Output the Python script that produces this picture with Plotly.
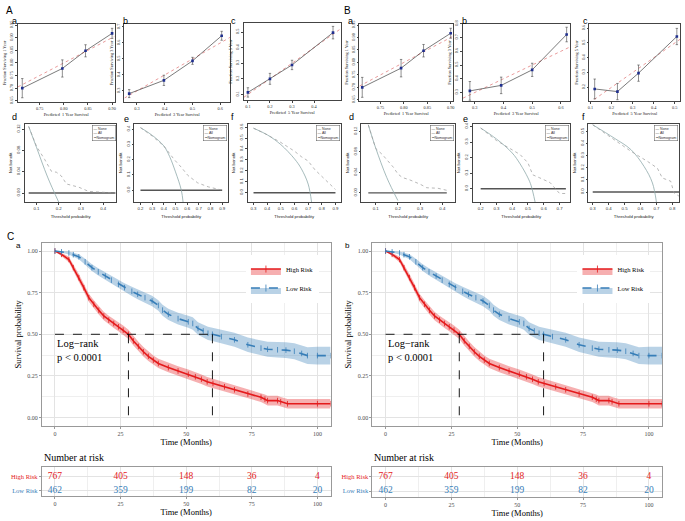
import plotly.graph_objects as go

# ---------------- DATA ----------------
# Calibration (predicted vs observed survival)
calA1_pred = [0.714, 0.797, 0.845, 0.900]
calA1_obs = [0.700, 0.778, 0.848, 0.917]
calA1_err = [0.038, 0.034, 0.024, 0.020]
calA3_pred = [0.272, 0.397, 0.500, 0.605]
calA3_obs = [0.283, 0.366, 0.488, 0.645]
calA3_err = [0.025, 0.032, 0.022, 0.028]
calA5_pred = [0.100, 0.200, 0.300, 0.486]
calA5_obs = [0.113, 0.200, 0.289, 0.496]
calA5_err = [0.030, 0.035, 0.030, 0.040]
calB1_pred = [0.711, 0.794, 0.842, 0.900]
calB1_obs = [0.700, 0.777, 0.847, 0.917]
calB1_err = [0.040, 0.035, 0.025, 0.020]
calB3_pred = [0.283, 0.392, 0.500, 0.620]
calB3_obs = [0.312, 0.352, 0.465, 0.722]
calB3_err = [0.068, 0.060, 0.048, 0.053]
calB5_pred = [0.120, 0.228, 0.328, 0.510]
calB5_obs = [0.189, 0.171, 0.296, 0.544]
calB5_err = [0.067, 0.055, 0.055, 0.055]

# Decision curves
dcaAd_all_x = [0.065, 0.10, 0.15, 0.20]
dcaAd_all_y = [0.125, 0.086, 0.030, -0.017]
dcaAd_nom_x = [0.065, 0.10, 0.137, 0.167, 0.19, 0.212, 0.235, 0.29, 0.335, 0.40, 0.455]
dcaAd_nom_y = [0.125, 0.088, 0.063, 0.041, 0.039, 0.032, 0.017, 0.011, 0.003, 0.001, 0.0]
dcaAe_all_x = [0.2, 0.3, 0.4, 0.45, 0.5, 0.55, 0.565]
dcaAe_all_y = [0.41, 0.36, 0.29, 0.22, 0.12, 0.0, -0.078]
dcaAe_nom_x = [0.2, 0.3, 0.4, 0.49, 0.55, 0.607, 0.69, 0.78, 0.9]
dcaAe_nom_y = [0.41, 0.355, 0.29, 0.20, 0.15, 0.096, 0.048, 0.022, 0.0]
dcaAf_all_x = [0.3, 0.4, 0.5, 0.6, 0.65, 0.7, 0.725]
dcaAf_all_y = [0.59, 0.53, 0.44, 0.31, 0.22, 0.08, -0.085]
dcaAf_nom_x = [0.3, 0.4, 0.5, 0.6, 0.65, 0.7, 0.75, 0.8, 0.85, 0.9]
dcaAf_nom_y = [0.59, 0.53, 0.46, 0.38, 0.33, 0.29, 0.21, 0.15, 0.09, 0.03]
dcaBd_all_x = [0.067, 0.10, 0.15, 0.20]
dcaBd_all_y = [0.133, 0.088, 0.030, -0.015]
dcaBd_nom_x = [0.067, 0.10, 0.13, 0.15, 0.18, 0.20, 0.22, 0.25, 0.30, 0.33, 0.38, 0.42]
dcaBd_nom_y = [0.133, 0.087, 0.075, 0.065, 0.050, 0.037, 0.030, 0.026, 0.017, 0.010, 0.009, 0.005]
dcaBe_all_x = [0.2, 0.3, 0.4, 0.45, 0.5, 0.52, 0.545]
dcaBe_all_y = [0.39, 0.32, 0.23, 0.16, 0.07, 0.02, -0.085]
dcaBe_nom_x = [0.2, 0.3, 0.4, 0.45, 0.5, 0.53, 0.575, 0.64, 0.70, 0.74]
dcaBe_nom_y = [0.39, 0.31, 0.25, 0.22, 0.166, 0.09, 0.07, 0.04, -0.03, -0.03]
dcaBf_all_x = [0.3, 0.435, 0.54, 0.623, 0.675, 0.70]
dcaBf_all_y = [0.555, 0.445, 0.35, 0.21, 0.075, -0.083]
dcaBf_nom_x = [0.3, 0.435, 0.54, 0.644, 0.706, 0.737, 0.758, 0.79, 0.81, 0.842]
dcaBf_nom_y = [0.555, 0.43, 0.336, 0.253, 0.197, 0.116, 0.103, 0.089, -0.007, -0.034]

# Kaplan-Meier curves
km_high_t = [0, 2.5, 5.3, 7, 9.1, 11, 12.9, 14.8, 16.7, 18.6, 20.5, 22.4, 24.2, 26, 28, 29.9, 31.8, 33.7,
             35.6, 37.5, 39.4, 43.2, 46.9, 50.8, 53.5, 55.8, 58, 60.2, 64.6, 68.4, 73.5, 78.5, 80, 81,
             84.8, 86, 88.6, 100, 105]
km_high_s = [1.0, 0.98, 0.949, 0.9, 0.84, 0.78, 0.72, 0.68, 0.644, 0.61, 0.585, 0.565, 0.545, 0.525, 0.50,
             0.46, 0.427, 0.395, 0.368, 0.345, 0.325, 0.30, 0.28, 0.26, 0.245, 0.23, 0.215, 0.205, 0.185,
             0.167, 0.142, 0.122, 0.11, 0.102, 0.102, 0.095, 0.083, 0.083, 0.083]
km_high_up = [1.0, 0.99, 0.965, 0.92, 0.862, 0.803, 0.744, 0.705, 0.669, 0.636, 0.611, 0.592, 0.572, 0.553,
              0.528, 0.488, 0.455, 0.423, 0.396, 0.373, 0.353, 0.328, 0.308, 0.288, 0.273, 0.258, 0.243,
              0.233, 0.213, 0.195, 0.17, 0.15, 0.139, 0.131, 0.131, 0.124, 0.112, 0.112, 0.112]
km_high_lo = [1.0, 0.97, 0.933, 0.88, 0.818, 0.757, 0.696, 0.655, 0.619, 0.584, 0.559, 0.538, 0.518, 0.497,
              0.472, 0.432, 0.399, 0.367, 0.34, 0.317, 0.297, 0.272, 0.252, 0.232, 0.217, 0.202, 0.187,
              0.177, 0.157, 0.139, 0.114, 0.094, 0.081, 0.073, 0.073, 0.066, 0.054, 0.054, 0.054]
km_low_t = [0, 2.5, 5.3, 7, 9.1, 11.5, 14.1, 16.5, 19.2, 21.5, 24.2, 26.5, 29.3, 31.5, 34.3, 37, 39.4, 41,
            43.2, 46.9, 50.8, 52.5, 54.5, 56.5, 58.3, 60, 63.4, 68.4, 73.5, 78.5, 81, 84.8, 88, 91.2, 94,
            96.2, 100, 105]
km_low_s = [1.0, 0.995, 0.988, 0.978, 0.965, 0.935, 0.90, 0.875, 0.85, 0.825, 0.80, 0.78, 0.758, 0.74,
            0.72, 0.70, 0.673, 0.645, 0.62, 0.594, 0.575, 0.565, 0.535, 0.52, 0.506, 0.50, 0.486, 0.467,
            0.437, 0.417, 0.41, 0.407, 0.405, 0.398, 0.385, 0.372, 0.372, 0.372]
km_low_up = [1.0, 1.0, 0.997, 0.99, 0.98, 0.953, 0.92, 0.897, 0.873, 0.85, 0.826, 0.807, 0.786, 0.769,
             0.75, 0.731, 0.705, 0.678, 0.654, 0.629, 0.611, 0.602, 0.573, 0.559, 0.546, 0.54, 0.527,
             0.509, 0.48, 0.461, 0.455, 0.453, 0.452, 0.446, 0.434, 0.422, 0.425, 0.425]
km_low_lo = [1.0, 0.99, 0.979, 0.966, 0.95, 0.917, 0.88, 0.853, 0.827, 0.8, 0.774, 0.753, 0.73, 0.711,
             0.69, 0.669, 0.641, 0.612, 0.586, 0.559, 0.539, 0.528, 0.497, 0.481, 0.466, 0.46, 0.445,
             0.425, 0.394, 0.373, 0.365, 0.361, 0.358, 0.35, 0.336, 0.322, 0.319, 0.319]
median_high = 28
median_low = 60

risk_times = [0, 25, 50, 75, 100]
risk_high = [767, 405, 148, 36, 4]
risk_low = [462, 359, 199, 82, 20]
groups = ["High Risk", "Low Risk"]

# ---------------- LAYOUT HELPERS ----------------
W, H = 685, 521
RED = "#E41A1C"
BLUE = "#377EB8"
SERIF = "Liberation Serif"
SANS = "Liberation Sans"


def dx(l, r):
    return [l / W, r / W]


def dy(t, b):
    return [1 - b / H, 1 - t / H]


def ids(i):
    s = "" if i == 1 else str(i)
    return "x" + s, "y" + s, "xaxis" + s, "yaxis" + s


fig = go.Figure()
lay = {}
annots = []


def base_axis(domain, rng, anchor, tickvals, fmt, title, font, angle=0, standoff=2):
    return dict(domain=domain, range=rng, anchor=anchor, showline=True, mirror=True,
                linecolor="#444", linewidth=0.7, ticks="outside", ticklen=2, tickwidth=0.5,
                tickcolor="#444", tickvals=tickvals, tickformat=fmt, tickangle=angle,
                tickfont=dict(size=4.3, family=font, color="#333"),
                title=dict(text=title, font=dict(size=4.3, family=font, color="#222"), standoff=standoff),
                showgrid=False, zeroline=False)


def cal_panel(i, box, pred, obs, err, xr, yr, xt, yt, fmt, yr_label):
    xa, ya, xk, yk = ids(i)
    fig.add_trace(go.Scatter(x=xr, y=xr, mode="lines", xaxis=xa, yaxis=ya, showlegend=False,
                             line=dict(color="#e07070", width=0.7, dash="dot")))
    fig.add_trace(go.Scatter(x=pred, y=obs, mode="lines+markers", xaxis=xa, yaxis=ya, showlegend=False,
                             line=dict(color="#222", width=0.6),
                             marker=dict(symbol="square", size=2.6, color="#1f2f8f"),
                             error_y=dict(type="data", array=err, color="#444", thickness=0.6, width=1.2)))
    lay[xk] = base_axis(dx(box[0], box[1]), xr, ya, xt, fmt, f"Predicted  {yr_label} Year Survival", SERIF)
    lay[yk] = base_axis(dy(box[2], box[3]), yr, xa, yt, fmt, f"Fraction Surviving {yr_label} Year", SERIF,
                        angle=-90)


def dca_panel(i, box, ax_, ay_, nx_, ny_, xr, yr, xt, yt, yfmt):
    xa, ya, xk, yk = ids(i)
    fig.add_trace(go.Scatter(x=[ax_[0], nx_[-1]], y=[0, 0], mode="lines", xaxis=xa, yaxis=ya,
                             showlegend=False, line=dict(color="#555", width=1.4)))
    fig.add_trace(go.Scatter(x=ax_, y=ay_, mode="lines", xaxis=xa, yaxis=ya, showlegend=False,
                             line=dict(color="#8fa9ab", width=0.8, shape="spline")))
    fig.add_trace(go.Scatter(x=nx_, y=ny_, mode="lines", xaxis=xa, yaxis=ya, showlegend=False,
                             line=dict(color="#999", width=0.7, dash="dot")))
    lay[xk] = base_axis(dx(box[0], box[1]), xr, ya, xt, ".1f", "Threshold probability", SANS, standoff=4)
    lay[yk] = base_axis(dy(box[2], box[3]), yr, xa, yt, yfmt, "Net benefit", SANS, angle=-90, standoff=3)
    annots.append(dict(xref=f"{xa} domain", yref=f"{ya} domain", x=0.99, y=0.98, xanchor="right",
                       yanchor="top", showarrow=False, align="left",
                       text="— None<br>— All<br>┅ Nomogram", bgcolor="white", bordercolor="#555",
                       borderwidth=0.5, borderpad=1, font=dict(size=3.6, family=SANS, color="#333")))


cal_panel(1, (16, 113, 21, 100), calA1_pred, calA1_obs, calA1_err, [0.705, 0.905], [0.645, 0.955],
          [0.75, 0.80, 0.85, 0.90], [0.65, 0.70, 0.75, 0.80, 0.85, 0.90, 0.95], ".2f", "1")
cal_panel(2, (123, 229, 21, 100), calA3_pred, calA3_obs, calA3_err, [0.255, 0.635], [0.23, 0.72],
          [0.3, 0.4, 0.5, 0.6], [0.3, 0.4, 0.5, 0.6, 0.7], ".1f", "3")
cal_panel(3, (243, 340, 20, 98), calA5_pred, calA5_obs, calA5_err, [0.082, 0.52], [0.064, 0.559],
          [0.1, 0.2, 0.3, 0.4], [0.1, 0.2, 0.3, 0.4, 0.5], ".1f", "5")
cal_panel(4, (359, 453, 21, 99), calB1_pred, calB1_obs, calB1_err, [0.705, 0.905], [0.645, 0.955],
          [0.75, 0.80, 0.85, 0.90], [0.65, 0.70, 0.75, 0.80, 0.85, 0.90, 0.95], ".2f", "1")
cal_panel(5, (463, 570, 21, 99), calB3_pred, calB3_obs, calB3_err, [0.259, 0.63], [0.238, 0.80],
          [0.3, 0.4, 0.5, 0.6], [0.3, 0.4, 0.5, 0.6, 0.7, 0.8], ".1f", "3")
cal_panel(6, (590, 681, 21, 99), calB5_pred, calB5_obs, calB5_err, [0.095, 0.525], [0.107, 0.63],
          [0.1, 0.2, 0.3, 0.4, 0.5], [0.2, 0.3, 0.4, 0.5, 0.6], ".1f", "5")

dca_panel(7, (23, 115, 122, 201), dcaAd_all_x, dcaAd_all_y, dcaAd_nom_x, dcaAd_nom_y,
          [0.048, 0.46], [-0.017, 0.13], [0.1, 0.2, 0.3, 0.4], [0, 0.04, 0.08, 0.12], ".2f")
dca_panel(8, (133, 227, 122, 201), dcaAe_all_x, dcaAe_all_y, dcaAe_nom_x, dcaAe_nom_y,
          [0.148, 0.95], [-0.078, 0.435], [0.2, 0.3, 0.4, 0.5, 0.6, 0.7, 0.8, 0.9],
          [0, 0.1, 0.2, 0.3, 0.4], ".1f")
dca_panel(9, (247, 340, 122, 201), dcaAf_all_x, dcaAf_all_y, dcaAf_nom_x, dcaAf_nom_y,
          [0.259, 0.937], [-0.085, 0.63], [0.3, 0.4, 0.5, 0.6, 0.7, 0.8, 0.9],
          [0, 0.1, 0.2, 0.3, 0.4, 0.5, 0.6], ".1f")
dca_panel(10, (361, 455, 122, 201), dcaBd_all_x, dcaBd_all_y, dcaBd_nom_x, dcaBd_nom_y,
          [0.036, 0.457], [-0.018, 0.135], [0.1, 0.2, 0.3, 0.4], [0, 0.04, 0.08, 0.12], ".2f")
dca_panel(11, (473, 570, 122, 201), dcaBe_all_x, dcaBe_all_y, dcaBe_nom_x, dcaBe_nom_y,
          [0.151, 0.763], [-0.085, 0.417], [0.2, 0.3, 0.4, 0.5, 0.6, 0.7],
          [0, 0.1, 0.2, 0.3, 0.4], ".1f")
dca_panel(12, (589, 680, 122, 201), dcaBf_all_x, dcaBf_all_y, dcaBf_nom_x, dcaBf_nom_y,
          [0.273, 0.842], [-0.083, 0.563], [0.3, 0.4, 0.5, 0.6, 0.7, 0.8],
          [0, 0.1, 0.2, 0.3, 0.4, 0.5], ".1f")

# ---------------- KM panels ----------------
tickfont_km = dict(size=6, family=SERIF, color="#4d4d4d")
titlefont_km = dict(size=8.5, family=SERIF, color="black")


def km_panel(i, j, box, rbox, legend_name, legx):
    xa, ya, xk, yk = ids(i)
    rxa, rya, rxk, ryk = ids(j)
    for t, s, up, lo, col, fill, dash, name in [
        (km_high_t, km_high_s, km_high_up, km_high_lo, RED, "rgba(228,26,28,0.35)", "solid", groups[0]),
        (km_low_t, km_low_s, km_low_up, km_low_lo, BLUE, "rgba(55,126,184,0.35)", "dash", groups[1]),
    ]:
        fig.add_trace(go.Scatter(x=t, y=lo, mode="lines", xaxis=xa, yaxis=ya, showlegend=False,
                                 line=dict(width=0, color=col), hoverinfo="skip"))
        fig.add_trace(go.Scatter(x=t, y=up, mode="lines", xaxis=xa, yaxis=ya, showlegend=False,
                                 fill="tonexty", fillcolor=fill, line=dict(width=0, color=col),
                                 hoverinfo="skip"))
        fig.add_trace(go.Scatter(x=t, y=s, mode="lines+markers", xaxis=xa, yaxis=ya, showlegend=False,
                                 line=dict(color=col, width=1.6, dash=dash),
                                 marker=dict(symbol="line-ns", size=4, color=col,
                                             line=dict(color=col, width=0.8))))
        # legend-only entry (fill box + line + censor mark)
        fig.add_trace(go.Scatter(x=[None], y=[None], mode="lines+markers", xaxis=xa, yaxis=ya, name=name,
                                 legend=legend_name, fill="toself", fillcolor=fill,
                                 line=dict(color=col, width=1.6, dash=dash),
                                 marker=dict(symbol="line-ns", size=5, color=col,
                                             line=dict(color=col, width=0.8))))
    # median lines
    fig.add_trace(go.Scatter(x=[0, median_low], y=[0.5, 0.5], mode="lines", xaxis=xa, yaxis=ya,
                             showlegend=False, line=dict(color="black", width=0.9, dash="dash")))
    for m in [median_high, median_low]:
        fig.add_trace(go.Scatter(x=[m, m], y=[0.5, 0], mode="lines", xaxis=xa, yaxis=ya,
                                 showlegend=False, line=dict(color="black", width=0.9, dash="dash")))
    common_x = dict(range=[-5, 105], tickvals=risk_times, showline=True, mirror=True, linecolor="#999",
                    linewidth=0.8, ticks="outside", ticklen=2, tickcolor="#999", tickfont=tickfont_km,
                    showgrid=True, gridcolor="#e3e3e3", gridwidth=0.6, zeroline=False,
                    minor=dict(dtick=12.5, tick0=0, showgrid=True, gridcolor="#efefef", gridwidth=0.4))
    lay[xk] = dict(domain=dx(box[0], box[1]), anchor=ya,
                   title=dict(text="Time (Months)", font=titlefont_km, standoff=3), **common_x)
    lay[yk] = dict(domain=dy(box[2], box[3]), anchor=xa, range=[-0.05, 1.05],
                   tickvals=[0, 0.25, 0.5, 0.75, 1.0], tickformat=".2f", showline=True, mirror=True,
                   linecolor="#999", linewidth=0.8, ticks="outside", ticklen=2, tickcolor="#999",
                   tickfont=tickfont_km, showgrid=True, gridcolor="#e3e3e3", gridwidth=0.6,
                   zeroline=False, title=dict(text="Survival probability", font=titlefont_km, standoff=4),
                   minor=dict(dtick=0.125, tick0=0, showgrid=True, gridcolor="#efefef", gridwidth=0.4))
    annots.append(dict(xref=xa, yref=ya, x=0, y=0.40, xanchor="left", yanchor="middle", showarrow=False,
                       align="left", text="Log\u2212rank<br>p &lt; 0.0001",
                       font=dict(size=10.5, family=SERIF, color="black")))
    lay[legend_name] = dict(x=legx / W, y=1 - 254 / H, xanchor="left", yanchor="top",
                            bgcolor="white", font=dict(size=6.5, family=SERIF, color="black"),
                            itemwidth=30, tracegroupgap=0, traceorder="normal")
    # risk table
    fig.add_trace(go.Scatter(x=risk_times, y=[2] * len(risk_times), text=[str(v) for v in risk_high],
                             mode="text", xaxis=rxa, yaxis=rya, showlegend=False,
                             textfont=dict(color=RED, size=9.5, family=SERIF)))
    fig.add_trace(go.Scatter(x=risk_times, y=[1] * len(risk_times), text=[str(v) for v in risk_low],
                             mode="text", xaxis=rxa, yaxis=rya, showlegend=False,
                             textfont=dict(color=BLUE, size=9.5, family=SERIF)))
    lay[rxk] = dict(domain=dx(rbox[0], rbox[1]), anchor=rya,
                    title=dict(text="Time (Months)", font=titlefont_km, standoff=2), **common_x)
    lay[ryk] = dict(domain=dy(rbox[2], rbox[3]), anchor=rxa, range=[0.57, 2.64], tickvals=[2, 1],
                    ticktext=[f"<span style='color:{RED}'>{groups[0]}</span>",
                              f"<span style='color:{BLUE}'>{groups[1]}</span>"],
                    tickfont=dict(size=6.5, family=SERIF), showline=True, mirror=True, linecolor="#999",
                    linewidth=0.8, ticks="outside", ticklen=2, tickcolor="#999", showgrid=True,
                    gridcolor="#e3e3e3", gridwidth=0.6, zeroline=False)
    annots.append(dict(xref=f"{rxa} domain", yref=f"{rya} domain", x=0, y=1, xanchor="left",
                       yanchor="bottom", yshift=2, showarrow=False, text="Number at risk",
                       font=dict(size=10, family=SERIF, color="black")))


km_panel(13, 15, (40, 330, 242, 427), (40, 330, 469, 498), "legend", 245)
km_panel(14, 16, (372, 663, 242, 427), (372, 663, 469, 499), "legend2", 578)

# panel letters
letters = [("A", 2, 0, 10), ("B", 341, 0, 10), ("C", 3, 228, 10),
           ("a", 8, 11, 9), ("b", 120, 11, 9), ("c", 228, 11, 9),
           ("a", 346, 11, 9), ("b", 460, 11, 9), ("c", 582, 11, 9),
           ("d", 8, 108, 9), ("e", 121, 110, 9), ("f", 228, 108, 9),
           ("d", 347, 108, 9), ("e", 461, 110, 9), ("f", 581, 108, 9),
           ("a", 12, 238, 8), ("b", 342, 238, 8)]
for txt, px, py, sz in letters:
    annots.append(dict(xref="paper", yref="paper", x=px / W, y=1 - py / H, xanchor="left", yanchor="top",
                       showarrow=False, text=txt, font=dict(size=sz, family=SANS, color="black")))

fig.update_layout(width=W, height=H, margin=dict(l=0, r=0, t=0, b=0), paper_bgcolor="white",
                  plot_bgcolor="white", annotations=annots, **lay)
fig.write_html("out.html", config={"displayModeBar": False},
               post_script="document.body.style.margin='0';document.body.style.overflow='hidden';")
